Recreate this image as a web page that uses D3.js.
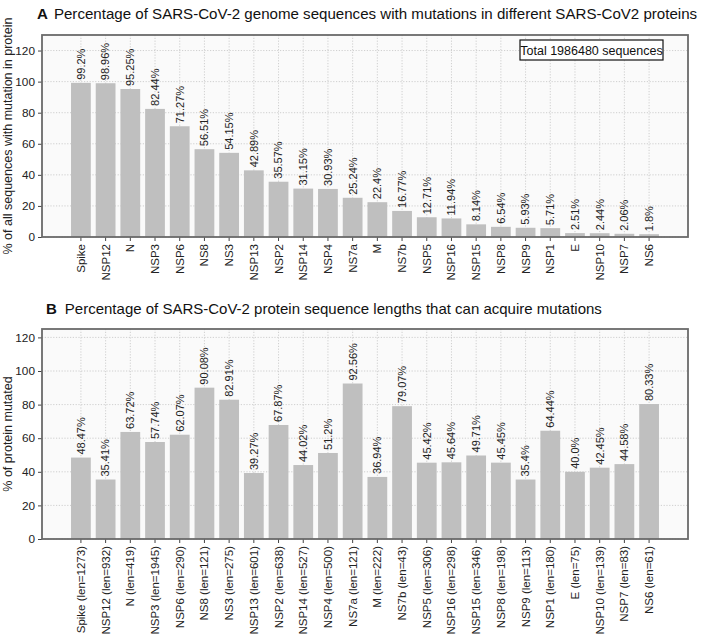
<!DOCTYPE html>
<html>
<head>
<meta charset="utf-8">
<script src="https://cdn.jsdelivr.net/npm/d3@7"></script>
<style>
  body { margin: 0; background: #fff; }
  svg { display: block; font-family: "Liberation Sans", Arial, Helvetica, sans-serif; }
</style>
</head>
<body>
<svg id="chart" width="708" height="636"></svg>
<script>
// ---------- data ----------
const proteinsA = ["Spike","NSP12","N","NSP3","NSP6","NS8","NS3","NSP13","NSP2","NSP14","NSP4","NS7a","M","NS7b","NSP5","NSP16","NSP15","NSP8","NSP9","NSP1","E","NSP10","NSP7","NS6"];
const pctSequences = [99.2,98.96,95.25,82.44,71.27,56.51,54.15,42.89,35.57,31.15,30.93,25.24,22.4,16.77,12.71,11.94,8.14,6.54,5.93,5.71,2.51,2.44,2.06,1.8];

const proteinsB = ["Spike","NSP12","N","NSP3","NSP6","NS8","NS3","NSP13","NSP2","NSP14","NSP4","NS7a","M","NS7b","NSP5","NSP16","NSP15","NSP8","NSP9","NSP1","E","NSP10","NSP7","NS6"];
const proteinLengths = [1273,932,419,1945,290,121,275,601,638,527,500,121,222,43,306,298,346,198,113,180,75,139,83,61];
const pctMutated = [48.47,35.41,63.72,57.74,62.07,90.08,82.91,39.27,67.87,44.02,51.2,92.56,36.94,79.07,45.42,45.64,49.71,45.45,35.4,64.44,40.0,42.45,44.58,80.33];

const yTicks = [0,20,40,60,80,100,120];
const titleA = "Percentage of SARS-CoV-2 genome sequences with mutations in different SARS-CoV2 proteins";
const titleB = "Percentage of SARS-CoV-2 protein sequence lengths that can acquire mutations";
const yLabelA = "% of all sequences with mutation in protein";
const yLabelB = "% of protein mutated";
const totalText = "Total 1986480 sequences";

// ---------- helpers ----------
const fmt = v => (Number.isInteger(v) ? v.toFixed(1) : String(v)) + "%";
const svg = d3.select("#chart");
const L = 42, R = 688;
const barColor = "#bfbfbf", frameColor = "#6a6a6a", gridColor = "#c4c4c4";

function panel(cfg) {
  const g = svg.append("g");
  const x = d3.scaleBand().domain(cfg.cats).range([L, R])
    .paddingInner(0.2).paddingOuter(1.175);
  const y = d3.scaleLinear().domain([0, cfg.ymax]).range([cfg.bottom, cfg.top]);
  const cx = c => x(c) + x.bandwidth() / 2;

  // background
  g.append("rect").attr("x", L).attr("y", cfg.top).attr("width", R - L)
    .attr("height", cfg.bottom - cfg.top).attr("fill", "#fafafa");

  // grid
  g.append("g").selectAll("line.h").data(yTicks).join("line")
    .attr("x1", L).attr("x2", R).attr("y1", d => y(d)).attr("y2", d => y(d))
    .attr("stroke", gridColor).attr("stroke-width", 0.8).attr("stroke-dasharray", "1.2,1.6");
  g.append("g").selectAll("line.v").data(cfg.cats).join("line")
    .attr("x1", d => cx(d)).attr("x2", d => cx(d)).attr("y1", cfg.top).attr("y2", cfg.bottom)
    .attr("stroke", gridColor).attr("stroke-width", 0.8).attr("stroke-dasharray", "1.2,1.6");

  // bars
  g.append("g").selectAll("rect").data(cfg.values).join("rect")
    .attr("x", (d, i) => x(cfg.cats[i]))
    .attr("width", x.bandwidth())
    .attr("y", d => y(d))
    .attr("height", d => cfg.bottom - y(d))
    .attr("fill", barColor);

  // value labels
  g.append("g").selectAll("text").data(cfg.values).join("text")
    .attr("transform", (d, i) => `translate(${cx(cfg.cats[i])},${y(d) - 3}) rotate(-90)`)
    .attr("dy", "0.35em")
    .attr("text-anchor", "start")
    .attr("font-size", 11)
    .attr("fill", "#222")
    .text(d => fmt(d));

  // y axis
  const yAxis = d3.axisLeft(y).tickValues(yTicks).tickSize(4).tickPadding(3).tickFormat(d3.format("d"));
  const ya = g.append("g").attr("transform", `translate(${L},0)`).call(yAxis);
  ya.select(".domain").remove();
  ya.selectAll(".tick line").attr("stroke", "#444");
  ya.selectAll(".tick text").attr("font-size", 11.8).attr("fill", "#222").attr("font-family", null);

  // x axis
  const xAxis = d3.axisBottom(x).tickSize(4).tickPadding(3).tickFormat((d, i) => cfg.xLabels[i]);
  const xa = g.append("g").attr("transform", `translate(0,${cfg.bottom})`).call(xAxis);
  xa.select(".domain").remove();
  xa.selectAll(".tick line").attr("stroke", "#444");
  xa.selectAll(".tick text")
    .attr("font-size", 11.5).attr("fill", "#222").attr("font-family", null)
    .attr("transform", "rotate(-90)")
    .attr("text-anchor", "end")
    .attr("x", -7).attr("y", 0).attr("dy", "0.35em");

  // frame
  g.append("rect").attr("x", L).attr("y", cfg.top).attr("width", R - L)
    .attr("height", cfg.bottom - cfg.top).attr("fill", "none")
    .attr("stroke", frameColor).attr("stroke-width", 1.8);

  // y label
  g.append("text")
    .attr("transform", `translate(12,${(cfg.top + cfg.bottom) / 2}) rotate(-90)`)
    .attr("text-anchor", "middle").attr("font-size", 12.5).attr("fill", "#222")
    .text(cfg.ylabel);

  // title
  const t = g.append("text").attr("x", cfg.titleX).attr("y", cfg.titleY).attr("font-size", cfg.titleSize).attr("fill", "#111");
  t.append("tspan").attr("font-weight", "bold").text(cfg.letter);
  t.append("tspan").attr("dx", cfg.titleGap).text(cfg.title);
  return { x, y, g };
}

const A = panel({
  cats: proteinsA, xLabels: proteinsA, values: pctSequences, ymax: 130,
  top: 35, bottom: 237, ylabel: yLabelA, letter: "A", title: titleA,
  titleX: 37, titleY: 19, titleSize: 15.1, titleGap: 6
});
// legend box
A.g.append("rect").attr("x", 520).attr("y", 40).attr("width", 143).attr("height", 20)
  .attr("fill", "#fff").attr("stroke", "#111").attr("stroke-width", 1.2);
A.g.append("text").attr("x", 591.5).attr("y", 54.5).attr("text-anchor", "middle")
  .attr("font-size", 12.5).attr("fill", "#111").text(totalText);

panel({
  cats: proteinsB, xLabels: proteinsB.map((p, i) => `${p} (len=${proteinLengths[i]})`),
  values: pctMutated, ymax: 125,
  top: 329, bottom: 539, ylabel: yLabelB, letter: "B", title: titleB,
  titleX: 46, titleY: 314, titleSize: 15, titleGap: 8
});
</script>
</body>
</html>
